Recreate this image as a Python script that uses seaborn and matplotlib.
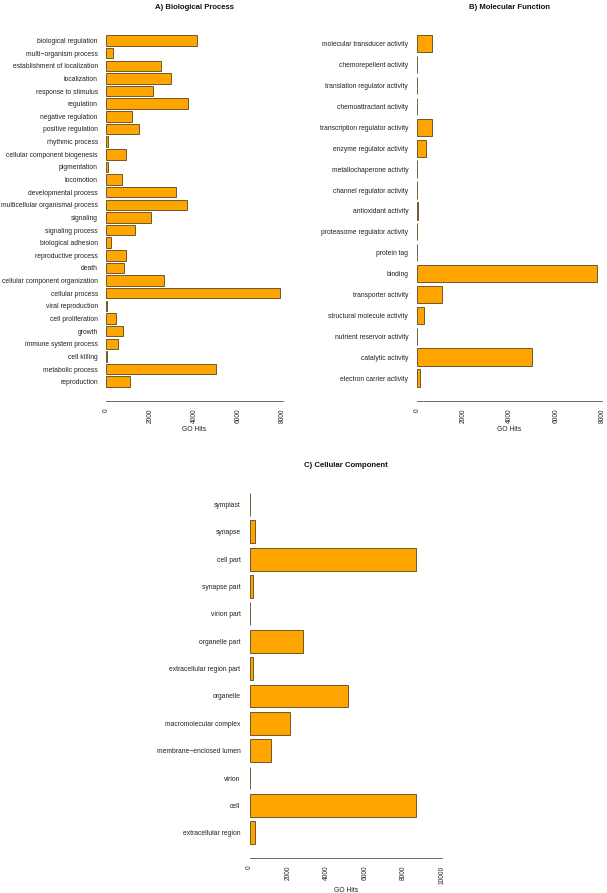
import matplotlib
matplotlib.use("Agg")
import matplotlib.pyplot as plt
import seaborn as sns
import pandas as pd

# ---------------- data ----------------
bp_terms = ["biological regulation", "multi\u2212organism process", "establishment of localization",
            "localization", "response to stimulus", "regulation", "negative regulation",
            "positive regulation", "rhythmic process", "cellular component biogenesis",
            "pigmentation", "locomotion", "developmental process",
            "multicellular organismal process", "signaling", "signaling process",
            "biological adhesion", "reproductive process", "death",
            "cellular component organization", "cellular process", "viral reproduction",
            "cell proliferation", "growth", "immune system process", "cell killing",
            "metabolic process", "reproduction"]
bp_hits = [4100, 320, 2500, 2930, 2120, 3720, 1180, 1470, 80, 890,
           90, 700, 3180, 3645, 2030, 1300, 210, 890, 790,
           2620, 7880, 50, 455, 740, 515, 30, 4990, 1075]

mf_terms = ["molecular transducer activity", "chemorepellent activity",
            "translation regulator activity", "chemoattractant activity",
            "transcription regulator activity", "enzyme regulator activity",
            "metallochaperone activity", "channel regulator activity",
            "antioxidant activity", "proteasome regulator activity", "protein tag",
            "binding", "transporter activity", "structural molecule activity",
            "nutrient reservoir activity", "catalytic activity",
            "electron carrier activity"]
mf_hits = [660, 2, 6, 2, 635, 400, 4, 15, 30, 3, 1,
           7785, 1080, 300, 4, 4975, 115]

cc_terms = ["symplast", "synapse", "cell part", "synapse part", "virion part",
            "organelle part", "extracellular region part", "organelle",
            "macromolecular complex", "membrane\u2212enclosed lumen", "virion",
            "cell", "extracellular region"]
cc_hits = [5, 277, 8620, 175, 10, 2770, 190, 5100, 2095, 1090, 12, 8630, 310]

ab_ticks = [0, 2000, 4000, 6000, 8000]
c_ticks = [0, 2000, 4000, 6000, 8000, 10000]

# ---------------- style ----------------
sns.set_style("white")
plt.rcParams["font.family"] = ["Liberation Sans", "DejaVu Sans"]

ORANGE = "#FFA500"
EDGE = "#5a4520"
AXGRAY = "#555555"
TXT = "#222222"

W, H = 607, 893
fig = plt.figure(figsize=(W / 100, H / 100), dpi=100)


def add_axes_px(left, top, right, bottom):
    return fig.add_axes([left / W, 1 - bottom / H, (right - left) / W, (bottom - top) / H])


def panel(ax, terms, hits, xlim_max, ticks, title):
    df = pd.DataFrame({"term": terms, "hits": hits})
    sns.barplot(data=df, x="hits", y="term", orient="h", color=ORANGE, saturation=1,
                edgecolor=EDGE, linewidth=0.6, width=0.833, ax=ax)
    n = len(terms)
    d = (0.5 + 0.04 * (1.2 * n - 0.2)) / 1.2
    ax.set_ylim(n - 1 + d, -d)
    ax.set_xlim(-0.04 * xlim_max, 1.04 * xlim_max)
    ax.set_xticks(ticks)
    ax.set_xticklabels([str(t) for t in ticks], rotation=90)
    for s in ["top", "right", "left"]:
        ax.spines[s].set_visible(False)
    ax.spines["bottom"].set_bounds(ticks[0], ticks[-1])
    ax.spines["bottom"].set_color(AXGRAY)
    ax.spines["bottom"].set_linewidth(0.6)
    ax.set_ylabel("")
    ax.set_xlabel("GO Hits", fontsize=4.9, labelpad=2, color=TXT)
    ax.tick_params(axis="y", length=0, pad=1, labelsize=4.9, labelcolor=TXT)
    ax.tick_params(axis="x", length=2.4, width=0.5, color=AXGRAY, pad=2.9,
                   labelsize=4.8, labelcolor=TXT)
    ax.set_facecolor("white")
    ax.annotate(title, xy=(0.5, 1), xycoords="axes fraction", xytext=(0, 10),
                textcoords="offset points", ha="center", va="center",
                fontweight="bold", fontsize=5.6, color="#111111")


# Panel A
axA = add_axes_px(99.2, 21.2, 289.8, 401.0)
panel(axA, bp_terms, bp_hits, 8000, ab_ticks, "A) Biological Process")

# Panel B
axB = add_axes_px(409.6, 21.0, 609.4, 400.8)
panel(axB, mf_terms, mf_hits, 8000, ab_ticks, "B) Molecular Function")

# Panel C
axC = add_axes_px(241.8, 478.9, 449.9, 858.3)
panel(axC, cc_terms, cc_hits, 10000, c_ticks, "C) Cellular Component")

fig.savefig("out.png", dpi=100, facecolor="white")
